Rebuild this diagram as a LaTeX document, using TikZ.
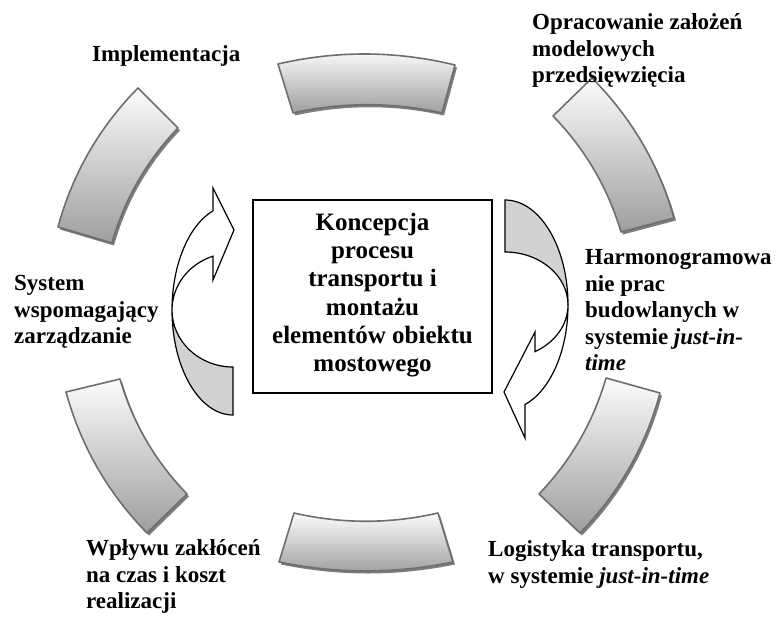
\documentclass[tikz,border=0pt]{standalone}
\usepackage{fontspec}
\setmainfont{Liberation Serif}
\usetikzlibrary{calc}
\definecolor{segborder}{RGB}{110,110,110}
\definecolor{segshadow}{RGB}{125,125,125}
\definecolor{segtop}{RGB}{252,252,252}
\definecolor{segbot}{RGB}{158,158,158}
\definecolor{arrowgray}{RGB}{210,210,210}
\newcommand\ringseg[6]{%
  \path[ringsegment] (#1)
    .. controls ($(#1)!0.3333!(#2)!#5!90:(#2)$) and ($(#1)!0.6667!(#2)!#5!90:(#2)$) .. (#2)
    -- (#3)
    .. controls ($(#3)!0.3333!(#4)!#6!-90:(#4)$) and ($(#3)!0.6667!(#4)!#6!-90:(#4)$) .. (#4)
    -- cycle;}
\tikzset{
  ringsegment/.style={draw=segborder, line width=1.6pt, line join=round,
    top color=segtop, bottom color=segbot,
    preaction={fill=segshadow, transform canvas={xshift=2pt, yshift=-2.5pt}}},
  arrowline/.style={draw=black, line width=1.2pt, line join=miter},
  lbl/.style={font=\bfseries\fontsize{23}{26.5}\selectfont, align=left, inner sep=0pt,
    anchor=north west, execute at begin node=\strut},
  corebox/.style={draw=black, line width=2.8pt, minimum width=239pt, minimum height=193pt,
    align=center, inner sep=0pt, font=\bfseries\fontsize{25}{28.3}\selectfont,
    execute at begin node=\strut, execute at end node=\strut}
}
\begin{document}
\begin{tikzpicture}[x=1pt, y=-1pt]
\useasboundingbox (0,0) rectangle (782,619);
% ring segments
\ringseg{278,64}{455,65}{442,113}{293,113}{14pt}{11pt}
\ringseg{592,78}{674,218}{621,232}{553,116}{14pt}{11pt}
\ringseg{660,393}{580,533}{539,494}{606,378}{14pt}{11pt}
\ringseg{453,562}{279,562}{294,513}{438,513}{12pt}{11pt}
\ringseg{147,533}{66,392}{120,379}{187,494}{14pt}{11pt}
\ringseg{58,227}{138,88}{178,128}{112,243}{14pt}{11pt}
% left curved arrow
\path[arrowline, fill=arrowgray] (233,415)
  arc[start angle=90, end angle=180, x radius=61, y radius=105]
  arc[start angle=180, end angle=90, x radius=61, y radius=57] -- cycle;
\path[arrowline, fill=white] (172,310)
  arc[start angle=180, end angle=250.9, x radius=61, y radius=105]
  -- (213,188) -- (234,230) -- (213,280) -- (213.04,256.14)
  arc[start angle=250.9, end angle=180, x radius=61, y radius=57] -- cycle;
% right curved arrow
\path[arrowline, fill=arrowgray] (505,200)
  arc[start angle=270, end angle=360, x radius=63, y radius=105]
  arc[start angle=0, end angle=-90, x radius=63, y radius=53] -- cycle;
\path[arrowline, fill=white] (568,305)
  arc[start angle=0, end angle=71.5, x radius=63, y radius=105]
  -- (525,438) -- (504,392) -- (535,332) -- (535,351.6)
  arc[start angle=61.56, end angle=0, x radius=63, y radius=53] -- cycle;
% central box
\node[corebox] (core) at (372.5,296.5) {Koncepcja\\procesu\\transportu i\\montażu\\elementów obiektu\\mostowego};
% labels
\node[lbl] (impl) at (92,42.45) {Implementacja};
\node[lbl] (oprac) at (532,13.45) {Opracowanie założeń\\modelowych\\przedsięwzięcia};
\node[lbl] (harm) at (585,249.45) {Harmonogramowa\\nie prac\\budowlanych w\\systemie \textit{just-in-}\\\textit{time}};
\node[lbl] (sys) at (14,275.45) {System\\wspomagający\\zarządzanie};
\node[lbl] (wplyw) at (86,539.45) {Wpływu zakłóceń\\na czas i koszt\\realizacji};
\node[lbl] (logi) at (488,540.45) {Logistyka transportu,\\w systemie \textit{just-in-time}};
\end{tikzpicture}
\end{document}
